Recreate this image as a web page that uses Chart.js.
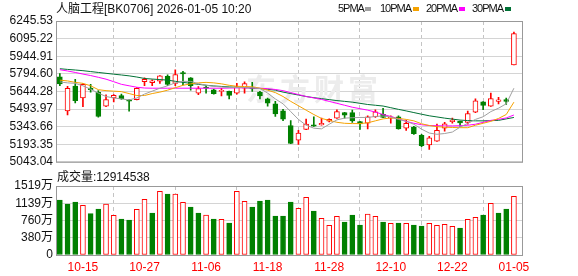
<!DOCTYPE html>
<html>
<head>
<meta charset="utf-8">
<script src="https://cdn.jsdelivr.net/npm/chart.js@4.4.1/dist/chart.umd.min.js"></script>
<style>
body { margin: 0; background: #fff; width: 578px; height: 276px; position: relative; overflow: hidden;
       font-family: "Liberation Sans", "Noto Sans CJK SC", sans-serif; }
#main { position: absolute; left: 0; top: 0; }
#vol { position: absolute; left: 0; top: 170px; }
.t { position: absolute; font-size: 12px; line-height: 12px; color: #111; white-space: nowrap; }
.lg { position: absolute; top: 3px; font-size: 11px; line-height: 11px; letter-spacing: -1px; color: #111; }
.sq { position: absolute; top: 7px; width: 6px; height: 4px; }
</style>
</head>
<body>
<canvas id="main" width="578" height="172"></canvas>
<canvas id="vol" width="578" height="106"></canvas>

<div class="t" style="left:56px;top:3px">人脑工程[BK0706] 2026-01-05 10:20</div>
<div class="lg" style="left:338px">5PMA</div><div class="sq" style="left:365px;background:#a0a0a0"></div>
<div class="lg" style="left:380px">10PMA</div><div class="sq" style="left:413px;background:#f5a200"></div>
<div class="lg" style="left:426px">20PMA</div><div class="sq" style="left:459px;background:#ff00ff"></div>
<div class="lg" style="left:472px">30PMA</div><div class="sq" style="left:505px;background:#007135"></div>
<div class="t" id="volTitle" style="left:57px;top:171px"></div>

<script>
// 交易日
const dates = ['10-10','10-13','10-14','10-15','10-16','10-17','10-20','10-21','10-22','10-23',
  '10-24','10-27','10-28','10-29','10-30','10-31','11-03','11-04','11-05','11-06',
  '11-07','11-10','11-11','11-12','11-13','11-14','11-17','11-18','11-19','11-20',
  '11-21','11-24','11-25','11-26','11-27','11-28','12-01','12-02','12-03','12-04',
  '12-05','12-08','12-09','12-10','12-11','12-12','12-15','12-16','12-17','12-18',
  '12-19','12-22','12-23','12-24','12-25','12-26','12-29','12-30','12-31','01-05'];
const xTickIdx = [3, 11, 19, 27, 35, 43, 51, 59]; // 显示日期的位置

const open = [5768.8,5477.6,5690.6,5588.3,5671.5,5635.7,5519.2,5588.3,5609.1,5569.1,
  5574.1,5727.2,5718.9,5732.2,5773.8,5713.0,5804.6,5760.5,5629.8,5678.1,
  5657.3,5644.0,5644.0,5629.8,5671.5,5677.3,5638.2,5579.9,5538.3,5477.6,
  5352.8,5228.0,5319.5,5357.8,5357.8,5391.1,5416.0,5463.5,5463.5,5386.1,
  5371.9,5427.7,5449.3,5416.0,5427.7,5330.3,5338.7,5269.6,5186.4,5219.7,
  5330.3,5386.1,5388.6,5380.3,5467.6,5554.9,5517.5,5559.1,5574.1,5871.1];
const high = [5796.3,5688.1,5746.4,5710.5,5704.7,5652.3,5615.7,5617.4,5621.5,5574.1,
  5677.3,5760.5,5742.2,5779.6,5785.4,5829.5,5815.4,5763.0,5685.6,5696.4,
  5663.1,5671.5,5646.5,5713.0,5725.5,5721.4,5644.0,5588.3,5559.1,5490.9,
  5394.4,5311.2,5407.7,5427.7,5416.0,5410.3,5485.9,5465.1,5484.2,5388.6,
  5436.0,5485.9,5499.2,5436.0,5436.0,5396.9,5347.0,5277.9,5261.3,5366.1,
  5380.3,5416.0,5390.2,5475.9,5579.9,5556.6,5629.8,5594.1,5588.3,6151.5];
const low = [5693.9,5444.3,5546.6,5513.4,5638.2,5425.0,5513.4,5554.9,5575.8,5475.9,
  5571.6,5693.9,5693.9,5713.0,5693.9,5693.9,5698.9,5654.8,5615.7,5629.8,
  5621.5,5604.9,5579.9,5621.5,5629.8,5644.0,5579.9,5519.2,5430.2,5394.4,
  5197.2,5191.4,5317.8,5345.3,5355.3,5382.8,5413.5,5416.0,5380.3,5319.5,
  5324.5,5421.8,5419.3,5371.9,5322.0,5311.2,5277.9,5172.3,5149.8,5218.0,
  5305.4,5371.9,5347.0,5363.6,5463.5,5488.4,5515.9,5538.3,5532.5,5871.1];
const close = [5707.2,5671.5,5565.8,5704.7,5659.0,5430.2,5574.1,5610.7,5582.4,5560.8,
  5671.5,5746.4,5735.5,5777.1,5704.7,5787.9,5793.8,5693.9,5668.2,5672.3,
  5624.0,5652.3,5610.7,5683.9,5710.5,5669.0,5604.9,5544.1,5451.0,5407.7,
  5199.7,5288.7,5366.1,5346.9,5371.9,5405.2,5471.8,5441.0,5392.8,5366.1,
  5426.1,5469.3,5421.8,5427.7,5324.5,5371.9,5283.0,5180.6,5247.1,5311.2,
  5367.8,5399.4,5374.4,5455.2,5563.3,5524.2,5582.4,5571.6,5559.1,6137.4];

const ma5 = [5725.5,5717.2,5713.0,5692.2,5663.1,5629.8,5600.7,5588.3,5579.9,5571.6,
  5588.3,5621.5,5646.5,5671.5,5692.2,5717.2,5729.7,5729.7,5710.5,5696.4,
  5688.1,5682.3,5677.3,5677.3,5677.3,5675.6,5669.0,5629.8,5579.9,5538.3,
  5471.8,5405.2,5355.3,5330.3,5324.5,5363.6,5401.1,5416.0,5419.3,5421.8,
  5421.8,5430.2,5434.3,5426.1,5405.2,5388.6,5363.6,5322.0,5288.7,5277.9,
  5284.6,5297.1,5338.7,5371.9,5405.2,5427.7,5471.8,5500.9,5538.3,5671.5];
const ma10 = [5740.5,5733.9,5721.4,5713.0,5692.2,5659.0,5650.7,5646.5,5642.3,5625.7,
  5609.1,5609.1,5625.7,5638.2,5654.8,5675.6,5696.4,5708.9,5717.2,5721.4,
  5717.2,5708.9,5696.4,5688.1,5685.6,5683.9,5671.5,5654.8,5634.0,5600.7,
  5559.1,5521.7,5484.2,5446.8,5413.5,5396.9,5380.3,5371.9,5369.4,5369.4,
  5376.1,5392.8,5409.4,5417.7,5413.5,5405.2,5392.8,5367.8,5352.8,5342.9,
  5338.7,5336.2,5334.5,5334.5,5355.3,5371.9,5388.6,5413.5,5446.8,5552.5];
const ma20 = [5829.5,5818.7,5806.2,5792.1,5779.6,5764.6,5748.8,5727.2,5704.7,5692.2,
  5679.8,5673.1,5671.5,5671.5,5671.5,5671.5,5671.5,5671.5,5671.5,5671.5,
  5671.5,5671.5,5673.1,5673.9,5674.8,5673.1,5671.5,5667.3,5660.6,5650.7,
  5634.0,5617.4,5600.7,5588.3,5575.8,5559.1,5542.5,5525.9,5509.2,5496.7,
  5484.2,5467.6,5446.8,5430.2,5409.4,5388.6,5371.9,5359.5,5352.8,5351.2,
  5349.5,5349.5,5351.2,5355.3,5363.6,5380.3,5396.9,5405.2,5417.7,5442.6];
const ma30 = [5837.9,5832.0,5827.0,5821.2,5813.7,5806.2,5798.8,5791.3,5784.6,5777.1,
  5767.1,5754.6,5749.6,5745.5,5740.5,5730.5,5721.4,5713.0,5704.7,5697.2,
  5690.6,5686.4,5682.3,5679.8,5677.3,5673.1,5669.0,5662.3,5654.8,5638.2,
  5625.7,5613.2,5600.7,5590.8,5582.4,5574.1,5565.8,5559.1,5552.5,5542.5,
  5532.5,5525.9,5519.2,5505.1,5490.9,5477.6,5463.5,5449.3,5436.0,5426.1,
  5416.0,5407.7,5399.4,5395.2,5392.8,5392.8,5394.4,5396.9,5409.4,5421.8];

// 成交量（万）
const volume = [1211,1123,1167,1094,910,1013,1123,873,793,771,
  1006,1226,925,1402,1343,1343,1160,1057,925,881,
  793,785,705,1402,1182,1057,1189,1211,859,859,
  1167,1028,1270,969,807,653,851,727,881,661,
  903,851,727,697,705,697,661,639,697,653,
  675,631,595,785,829,881,1138,925,1013,1291.45];
const currentVolume = 12914538;

const priceTicks = [5043.04, 5193.35, 5343.66, 5493.97, 5644.28, 5794.60, 5944.91, 6095.22, 6245.53];
const volTicks = [0, 380, 760, 1139, 1519];
const volTickLabels = ['0', '380万', '760万', '1139万', '1519万'];

const maNames = ['5PMA', '10PMA', '20PMA', '30PMA'];
const maSeries = [ma5, ma10, ma20, ma30];
const maColors = ['#a0a0a0', '#f5a200', '#ff00ff', '#007135'];

const RED = '#ff0000', GREEN = '#008000';
const FONT = '"Liberation Sans", "Noto Sans CJK SC", sans-serif';
const up = close.map((c, i) => c >= open[i]); // 阳线
const volUp = close.map((c, i) => i === 0 ? c >= open[i] : c >= close[i - 1]);

document.getElementById('volTitle').textContent = '成交量:' + currentVolume;

const frame = { // 外框
    id: 'frame',
    beforeDatasetsDraw(chart) {
        const a = chart.chartArea, ctx = chart.ctx;
        ctx.save();
        ctx.strokeStyle = '#999';
        ctx.lineWidth = 1;
        ctx.strokeRect(a.left + 0.5, a.top + 0.5, a.right - a.left, a.bottom - a.top);
        ctx.restore();
    }
};
const watermark = {
    id: 'watermark',
    beforeDatasetsDraw(chart) {
        const ctx = chart.ctx;
        ctx.save();
        ctx.fillStyle = '#ececec';
        ctx.font = 'bold 30px "Noto Sans CJK SC"';
        ctx.textBaseline = 'middle';
        ctx.letterSpacing = '4px';
        ctx.fillText('东方财富', 246, 89);
        ctx.restore();
    }
};

const xBase = {
    type: 'linear', min: -0.5, max: 60.05, offset: false,
    afterBuildTicks: s => { s.ticks = xTickIdx.map(v => ({ value: v })); },
    grid: { color: '#c4c4c4', drawTicks: false, borderDash: [4, 3] },
    border: { display: false, dash: [4, 3] }
};

new Chart(document.getElementById('main'), {
    type: 'bar',
    data: {
        datasets: [
            ...maSeries.map((s, k) => ({
                type: 'line', label: maNames[k],
                data: s.map((v, i) => ({ x: i, y: v })),
                borderColor: maColors[k], borderWidth: 1, pointRadius: 0, tension: 0, order: 1
            })),
            {
                label: 'body',
                data: dates.map((d, i) => ({ x: i, y: [open[i], close[i]] })),
                backgroundColor: up.map(u => u ? '#ffffff' : GREEN),
                borderColor: up.map(u => u ? RED : GREEN),
                borderWidth: 1, borderSkipped: false, barThickness: 5, minBarLength: 1,
                grouped: false, order: 2
            },
            {
                label: 'wick',
                data: dates.map((d, i) => ({ x: i, y: [low[i], high[i]] })),
                backgroundColor: up.map(u => u ? RED : GREEN),
                borderWidth: 0, barThickness: 1, grouped: false, order: 3
            }
        ]
    },
    options: {
        responsive: false, animation: false, devicePixelRatio: 1,
        layout: { padding: { top: 21, right: 56, bottom: 7, left: 0 } },
        plugins: { legend: { display: false }, tooltip: { enabled: false } },
        scales: {
            x: Object.assign({}, xBase, {
                afterFit: s => { s.height = 0; },
                ticks: { display: false }
            }),
            y: {
                min: priceTicks[0], max: priceTicks[priceTicks.length - 1],
                afterBuildTicks: s => { s.ticks = priceTicks.map(v => ({ value: v })); },
                afterFit: s => { s.width = 56; },
                ticks: { callback: v => v.toFixed(2), color: '#111', padding: 3, autoSkip: false,
                         font: { size: 12, family: FONT } },
                grid: { color: '#d4d4d4', drawTicks: false },
                border: { display: false }
            }
        }
    },
    plugins: [watermark, frame]
});

new Chart(document.getElementById('vol'), {
    type: 'bar',
    data: {
        datasets: [{
            label: 'volume',
            data: volume.map((v, i) => ({ x: i, y: v })),
            backgroundColor: volUp.map(u => u ? '#ffffff' : GREEN),
            borderColor: volUp.map(u => u ? RED : GREEN),
            borderWidth: 1, borderSkipped: false, barThickness: 5, grouped: false
        }]
    },
    options: {
        responsive: false, animation: false, devicePixelRatio: 1,
        layout: { padding: { top: 16, right: 56, bottom: 0, left: 0 } },
        plugins: { legend: { display: false }, tooltip: { enabled: false } },
        scales: {
            x: Object.assign({}, xBase, {
                afterFit: s => { s.height = 21; },
                ticks: { callback: v => dates[v], color: RED, padding: 5, maxRotation: 0, autoSkip: false,
                         font: { size: 12, family: FONT } }
            }),
            y: {
                min: 0, max: volTicks[volTicks.length - 1],
                afterBuildTicks: s => { s.ticks = volTicks.map(v => ({ value: v })); },
                afterFit: s => { s.width = 56; },
                ticks: { callback: (v, i) => volTickLabels[i], color: '#111', padding: 3, autoSkip: false,
                         font: { size: 12, family: FONT } },
                grid: { color: '#d4d4d4', drawTicks: false },
                border: { display: false }
            }
        }
    },
    plugins: [frame]
});
</script>
</body>
</html>
